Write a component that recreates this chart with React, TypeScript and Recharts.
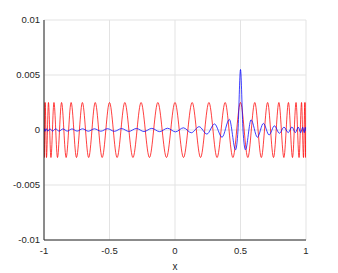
import React from 'react';
import { LineChart, Line, XAxis, YAxis, CartesianGrid } from 'recharts';

// Red series: extrema (x, value)
const redX = [
  -1, -0.998, -0.991, -0.981, -0.966, -0.947, -0.924, -0.897, -0.866, -0.831,
  -0.793, -0.752, -0.707, -0.659, -0.609, -0.556, -0.5, -0.442, -0.383, -0.321,
  -0.259, -0.195, -0.131, -0.065, 0,
  0.065, 0.131, 0.195, 0.259, 0.321, 0.383, 0.442, 0.5, 0.556, 0.609,
  0.659, 0.707, 0.752, 0.793, 0.831, 0.866, 0.897, 0.924, 0.947, 0.966,
  0.981, 0.991, 0.998, 1,
];
const redY = [
  0.0025, -0.0025, 0.0025, -0.0025, 0.0025, -0.0025, 0.0025, -0.0025, 0.0025, -0.0025,
  0.0025, -0.0025, 0.0025, -0.0025, 0.0025, -0.0025, 0.0025, -0.0025, 0.0025, -0.0025,
  0.0025, -0.0025, 0.0025, -0.0025, 0.0025,
  -0.0025, 0.0025, -0.0025, 0.0025, -0.0025, 0.0025, -0.0025, 0.0025, -0.0025, 0.0025,
  -0.0025, 0.0025, -0.0025, 0.0025, -0.0025, 0.0025, -0.0025, 0.0025, -0.0025, 0.0025,
  -0.0025, 0.0025, -0.0025, 0.0025,
];

// Blue series: extrema (x, value)
const blueX = [
  -1, -0.9982, -0.9927, -0.9836, -0.9709, -0.9546, -0.9348, -0.9115, -0.8849, -0.8551,
  -0.8222, -0.7862, -0.7475, -0.7059, -0.6618, -0.6152, -0.5663, -0.5153, -0.4625, -0.408,
  -0.352, -0.2947, -0.2363, -0.1771, -0.1172, -0.0569, 0.0037, 0.0642, 0.1245, 0.1843,
  0.2434, 0.3017, 0.3589, 0.415, 0.462, 0.481, 0.5, 0.519, 0.538,
  0.5807, 0.6288, 0.6747, 0.7183, 0.7591, 0.7971, 0.8322, 0.8642, 0.8931, 0.9187,
  0.9409, 0.9597, 0.9749, 0.9866, 0.9947, 1,
];
const blueY = [
  -0.00013, 0.00013, -0.00012, 0.00012, -0.00011, 0.00011, -0.0001, 0.0001, -0.0001, 0.0001,
  -0.0001, 0.0001, -0.0001, 0.00011, -0.00011, 0.00011, -0.00011, 0.00012, -0.00012, 0.00013,
  -0.00013, 0.00014, -0.00014, 0.00015, -0.00015, 0.00016, -0.00017, 0.0002, -0.00025, 0.0003,
  -0.00037, 0.00055, -0.00066, 0.00097, -0.0018, 0, 0.0055, 0, -0.0018,
  0.00093, -0.00066, 0.0006, -0.00045, 0.00038, -0.0003, 0.00026, -0.00024, 0.00028, -0.00024,
  0.00026, -0.00024, 0.00025, -0.00024, 0.00024, -0.0001,
];

const xTicks = [-1, -0.5, 0, 0.5, 1];
const yTicks = [-0.01, -0.005, 0, 0.005, 0.01];

const redData = redX.map((x, i) => ({ x, y: redY[i] }));
const blueData = blueX.map((x, i) => ({ x, y: blueY[i] }));

const axisColor = '#262626';
const tickStyle = { fontSize: 9.5, fill: axisColor, fontFamily: '"Liberation Sans", Arial, sans-serif' };

export default function App() {
  return (
    <div style={{ position: 'absolute', left: 0, top: 0, width: 338, height: 273, background: '#fff' }}>
      <LineChart width={338} height={273} margin={{ top: 20, right: 32, bottom: 0, left: 4 }}>
        <CartesianGrid stroke="#e3e3e3" strokeWidth={1} />
        <XAxis
          dataKey="x"
          type="number"
          domain={[-1, 1]}
          ticks={xTicks}
          allowDataOverflow
          height={33}
          tickLine={false}
          tickSize={0}
          tickMargin={7}
          tick={tickStyle}
          stroke={axisColor}
          label={{ value: 'x', position: 'insideBottom', offset: 3, style: { ...tickStyle, fontSize: 10 } }}
        />
        <XAxis
          xAxisId="top"
          orientation="top"
          type="number"
          domain={[-1, 1]}
          height={0}
          tick={false}
          tickLine={false}
          stroke={axisColor}
        />
        <YAxis
          type="number"
          domain={[-0.01, 0.01]}
          ticks={yTicks}
          allowDataOverflow
          width={40}
          tickLine={false}
          tickSize={0}
          tickMargin={4}
          tick={tickStyle}
          stroke={axisColor}
        />
        <YAxis
          yAxisId="right"
          orientation="right"
          type="number"
          domain={[-0.01, 0.01]}
          width={0}
          tick={false}
          tickLine={false}
          stroke={axisColor}
        />
        <Line data={redData} dataKey="y" type="monotone" stroke="#ff0000" strokeWidth={0.75} dot={false} isAnimationActive={false} />
        <Line data={blueData} dataKey="y" type="monotone" stroke="#0000ff" strokeWidth={0.75} dot={false} isAnimationActive={false} />
      </LineChart>
    </div>
  );
}
